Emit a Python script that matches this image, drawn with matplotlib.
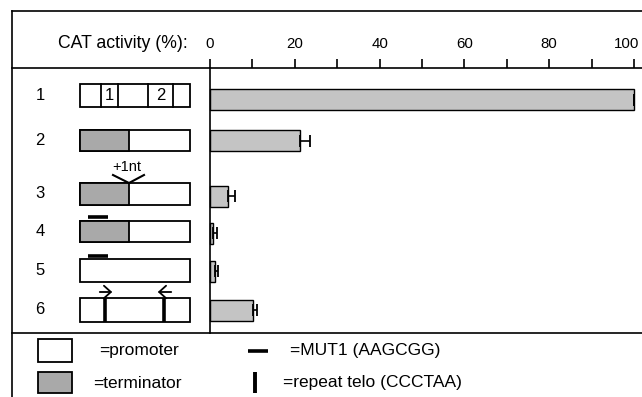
import matplotlib
matplotlib.use("Agg")
import matplotlib.pyplot as plt
from matplotlib.patches import Rectangle, FancyArrowPatch
from matplotlib.transforms import ScaledTranslation

plt.rcParams['font.family'] = ['Liberation Sans', 'DejaVu Sans']

# data
constructs = ['1', '2', '3', '4', '5', '6']
activity = [100, 21.2, 4.3, 0.6, 1.2, 10.2]
err = [0, 2.4, 1.7, 1.0, 0.7, 0.9]
ticks = [0, 20, 40, 60, 80, 100]
minor = [10, 30, 50, 70, 90]
has_term = [False, True, True, True, False, False]
legend_box = ['=promoter', '=terminator']
legend_mark = ['=MUT1 (AAGCGG)', '=repeat telo (CCCTAA)']

# layout in pixels (figure is 642 x 397, y down)
W, H = 642, 397
row_y = [99.5, 140.5, 196, 233, 271, 310]
box_top = [84, 130, 183, 221, 259, 298]
box_h = [23, 21, 22, 21, 23, 24]
bar_gray = '#c4c4c4'
term_gray = '#a9a9a9'

fig = plt.figure(figsize=(W / 100, H / 100), dpi=100)
bg = fig.add_axes([0, 0, 1, 1])
bg.set_xlim(0, W)
bg.set_ylim(H, 0)
bg.axis('off')

# frame lines
bg.plot([12, W], [11, 11], color='black', lw=1.2)
bg.plot([12, 12], [11, H], color='black', lw=1.2)
bg.plot([12, W], [68, 68], color='black', lw=1.2)
bg.plot([12, W], [333, 333], color='black', lw=1.2)

bg.text(58, 44, 'CAT activity (%):', fontsize=12.7, ha='left', va='center')

# bar chart
ax = fig.add_axes([210 / W, (H - 333) / H, 424 / W, (333 - 68) / H])
ax.patch.set_alpha(0)
ax.barh(row_y, activity, height=21, color=bar_gray, edgecolor='black', lw=1,
        xerr=[[0] * len(err), err], clip_on=False,
        error_kw=dict(ecolor='black', elinewidth=1.2, capsize=4.5, capthick=1.3))
ax.set_xlim(0, 100)
ax.set_ylim(333, 68)
for s in ['top', 'right', 'bottom']:
    ax.spines[s].set_visible(False)
ax.spines['left'].set_linewidth(1.2)
ax.xaxis.tick_top()
ax.set_xticks(ticks)
ax.set_xticks(minor, minor=True)
ax.tick_params(axis='x', which='both', direction='out', length=6.5, width=1.2, pad=6)
ax.tick_params(axis='x', labelsize=10.8)
ax.set_yticks([])
# last label sits a little left of its tick, inside the page
last = ax.get_xticklabels()[-1]
last.set_transform(last.get_transform() + ScaledTranslation(-0.07, 0, fig.dpi_scale_trans))

# constructs
for i, name in enumerate(constructs):
    cy = box_top[i] + box_h[i] / 2
    bg.text(40, cy, name, fontsize=12, ha='center', va='center')
    bg.add_patch(Rectangle((80, box_top[i]), 110, box_h[i], facecolor='white',
                           edgecolor='black', lw=1.3))
    if has_term[i]:
        bg.add_patch(Rectangle((80, box_top[i]), 49, box_h[i], facecolor=term_gray,
                               edgecolor='black', lw=1.3))

# construct 1: two sub-elements
cy = box_top[0] + box_h[0] / 2
for xd in [101, 118, 148, 173]:
    bg.plot([xd, xd], [box_top[0], box_top[0] + box_h[0]], color='black', lw=1.3)
bg.text(109.5, cy, '1', fontsize=12, ha='center', va='center')
bg.text(160.5, cy, '2', fontsize=12, ha='center', va='center')

# construct 3: insertion
bg.plot([113, 129, 144], [175, 183, 175], color='black', lw=1.5)
bg.text(127, 167, '+1nt', fontsize=10.5, ha='center', va='center')

# constructs 4, 5: MUT1
for yy in [216.5, 255.5]:
    bg.plot([88, 108], [yy, yy], color='black', lw=2.6, solid_capstyle='butt')

# construct 6: telo repeats and primers
for xx in [105, 164]:
    bg.plot([xx, xx], [box_top[5], box_top[5] + box_h[5]], color='black', lw=2.6,
            solid_capstyle='butt')
for x0, x1 in [(97, 115), (174, 155)]:
    bg.add_patch(FancyArrowPatch((x0, 292), (x1, 292), arrowstyle='->,head_length=0.5,head_width=0.45',
                                 mutation_scale=10, color='black', lw=1.3))

# legend
bg.add_patch(Rectangle((38, 339), 34, 23, facecolor='white', edgecolor='black', lw=1.3))
bg.add_patch(Rectangle((38, 372), 34, 21, facecolor=term_gray, edgecolor='black', lw=1.3))
bg.text(99, 350, legend_box[0], fontsize=12.5, ha='left', va='center')
bg.text(93, 383, legend_box[1], fontsize=12.5, ha='left', va='center')
bg.plot([248, 268], [351, 351], color='black', lw=2.6, solid_capstyle='butt')
bg.plot([255, 255], [372, 393], color='black', lw=2.8, solid_capstyle='butt')
bg.text(290, 350, legend_mark[0], fontsize=12.5, ha='left', va='center')
bg.text(283, 383, legend_mark[1], fontsize=12.5, ha='left', va='center')

fig.savefig('out.png', dpi=100)
